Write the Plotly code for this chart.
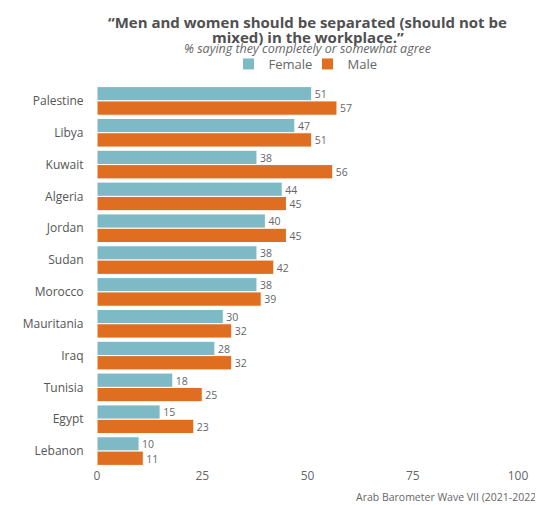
import plotly.graph_objects as go

countries = ["Palestine", "Libya", "Kuwait", "Algeria", "Jordan", "Sudan", "Morocco",
             "Mauritania", "Iraq", "Tunisia", "Egypt", "Lebanon"]
female = [51, 47, 38, 44, 40, 38, 38, 30, 28, 18, 15, 10]
male = [57, 51, 56, 45, 45, 42, 39, 32, 32, 25, 23, 11]
x_ticks = [0, 25, 50, 75, 100]
title_lines = ["“Men and women should be separated (should not be",
               "mixed) in the workplace.”"]
subtitle = "% saying they completely or somewhat agree"
source = "Arab Barometer Wave VII (2021-2022)"

FONT = "Open Sans"
GRAY = "#666666"
C_F = "#7EBAC6"
C_M = "#E06E20"

OFF = 8  # default page body margin
W, H = 543 - OFF, 505 - OFF
L, R, T, B = 97 - OFF, 25, 85 - OFF, 38
PH = H - T - B
PW = W - L - R


def py(px):  # reference screen y -> paper
    return (H - B - (px - OFF)) / PH


def px_x(px):  # reference screen x -> paper
    return ((px - OFF) - L) / PW


fig = go.Figure()
fig.add_trace(go.Bar(y=countries, x=female, name="Female", orientation="h",
                     marker=dict(color=C_F, line=dict(color="white", width=1)),
                     text=female, textposition="outside", cliponaxis=False,
                     textfont=dict(color=GRAY, size=11, family=FONT)))
fig.add_trace(go.Bar(y=countries, x=male, name="Male", orientation="h",
                     marker=dict(color=C_M, line=dict(color="white", width=1)),
                     text=male, textposition="outside", cliponaxis=False,
                     textfont=dict(color=GRAY, size=11, family=FONT)))

fig.update_layout(
    width=W, height=H,
    margin=dict(l=L, r=R, t=T, b=B, autoexpand=False),
    paper_bgcolor="white", plot_bgcolor="white",
    font=dict(family=FONT, color=GRAY, size=12),
    barmode="group", bargap=0.1, bargroupgap=0,
    showlegend=True,
    legend=dict(orientation="h", x=0.5, xanchor="center", y=py(64), yanchor="middle",
                font=dict(size=13, color=GRAY), traceorder="normal",
                itemwidth=30, entrywidth=34, entrywidthmode="pixels"),
    xaxis=dict(range=[0, 100], tickvals=x_ticks, showgrid=False, zeroline=False,
               showline=False, ticks="", automargin=False,
               tickfont=dict(size=12, color=GRAY)),
    yaxis=dict(autorange="reversed", showgrid=False, ticks="", ticksuffix="    ",
               automargin=False, tickfont=dict(size=12, color="#555555")),
    annotations=[
        dict(text="<b>" + title_lines[0] + "</b>",
             xref="paper", yref="paper", x=0.5, y=py(21.5), xanchor="center", yanchor="middle",
             showarrow=False, font=dict(size=15, color="#505050", family=FONT)),
        dict(text="<b>" + title_lines[1] + "</b>",
             xref="paper", yref="paper", x=0.5, y=py(37), xanchor="center", yanchor="middle",
             showarrow=False, font=dict(size=15, color="#505050", family=FONT)),
        dict(text="<i>" + subtitle + "</i>",
             xref="paper", yref="paper", x=0.5, y=py(48.5), xanchor="center", yanchor="middle",
             showarrow=False, font=dict(size=12.5, color=GRAY, family=FONT)),
        dict(text=source,
             xref="paper", yref="paper", x=px_x(541), y=py(497),
             xanchor="right", yanchor="middle", showarrow=False,
             font=dict(size=10.5, color=GRAY, family=FONT)),
    ],
)

fig.write_html("out.html")
